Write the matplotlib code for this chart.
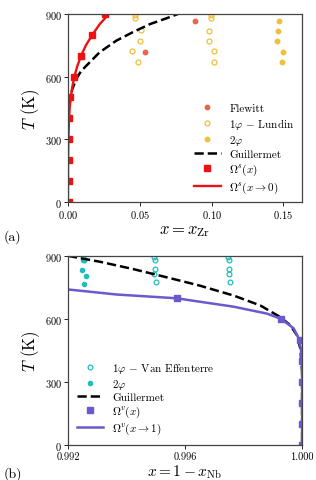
import matplotlib
matplotlib.use("Agg")
import matplotlib.pyplot as plt

plt.rcParams["font.family"] = "serif"
plt.rcParams["font.serif"] = ["cmr10", "DejaVu Serif"]
plt.rcParams["mathtext.fontset"] = "cm"
plt.rcParams["axes.formatter.use_mathtext"] = True
plt.rcParams["axes.unicode_minus"] = False

# -------------------------------------------------
# panel (a) data : Zr in Nb-Zr dilute side
# -------------------------------------------------
flewitt_x = [0.0535, 0.0884]
flewitt_T = [716, 866]

lundin1_x = [0.047, 0.047, 0.0512, 0.0500, 0.0449, 0.0488,
             0.0993, 0.0993, 0.0984, 0.0980, 0.1019, 0.1014]
lundin1_T = [896, 879, 824, 770, 721, 671,
             896, 879, 818, 770, 721, 671]

lundin2_x = [0.1472, 0.1465, 0.1458, 0.1498, 0.1490]
lundin2_T = [868, 818, 770, 716, 668]

guil_a_x = [0.0, 0.0005, 0.0012, 0.0030, 0.0058, 0.0090, 0.0128, 0.022,
            0.0337, 0.045, 0.057, 0.0686, 0.0767, 0.085]
guil_a_T = [400, 445, 480, 540, 588, 625, 652, 716,
            772, 812, 851, 879, 900, 915]

omega_s_x = [0.0004, 0.0004, 0.0004, 0.0004, 0.0007, 0.0016, 0.0040,
             0.0088, 0.0170, 0.0260]
omega_s_T = [0, 100, 200, 300, 400, 500, 600, 700, 800, 900]

dil_s_x = [0.0, 0.0001, 0.0003, 0.0008, 0.0012, 0.0020, 0.0030, 0.0045,
           0.0065, 0.0092, 0.0125, 0.0170, 0.0220, 0.0285, 0.0320]
dil_s_T = [0, 200, 300, 400, 450, 500, 550, 600,
           650, 700, 750, 800, 850, 900, 925]

# -------------------------------------------------
# panel (b) data : Nb-rich side
# -------------------------------------------------
vaneff1_x = [0.99252, 0.99254, 0.99495, 0.99499, 0.99497, 0.99495, 0.99500,
             0.99747, 0.99750, 0.99750, 0.99749, 0.99753]
vaneff1_T = [893, 880, 893, 878, 837, 812, 775,
             893, 878, 837, 812, 775]

vaneff2_x = [0.99250, 0.99248, 0.99261, 0.99256]
vaneff2_T = [880, 832, 805, 766]

guil_b_x = [0.9920, 0.99309, 0.99423, 0.99537, 0.99651, 0.99766, 0.99857,
            0.99926, 0.99960, 0.99983, 0.99994, 1.0, 1.0]
guil_b_T = [900, 872, 837, 798, 758, 711, 664,
            608, 569, 521, 458, 347, 0]

omega_v_x = [0.999995, 0.999995, 0.999995, 0.999995, 0.999995, 0.99994,
             0.99928, 0.99571]
omega_v_T = [0, 100, 200, 300, 400, 500, 600, 700]

dil_v_x = [0.9920, 0.99366, 0.99571, 0.99766, 0.99880, 0.99928, 0.99971,
           0.99989, 0.99996, 1.0, 1.0]
dil_v_T = [740, 716, 698, 658, 625, 600, 555, 505, 458, 360, 0]

# colours
RED = "#ee1111"
FLEWITT = "#e8664a"
GOLD = "#f0bf3c"
CYAN = "#1fbdbd"
PURPLE = "#6a5acd"

fig = plt.figure(figsize=(3.16, 4.81), dpi=100)
ax1 = fig.add_axes([0.215, 0.578, 0.741, 0.391])
ax2 = fig.add_axes([0.215, 0.073, 0.741, 0.393])

# -----------------------------
# (a)
# -----------------------------
ax1.plot(flewitt_x, flewitt_T, "o", color=FLEWITT, ms=3.2, label="Flewitt")
ax1.plot(lundin1_x, lundin1_T, "o", mfc="none", mec=GOLD, mew=0.9, ms=3.6,
         label=r"$1\varphi$ $-$ Lundin")
ax1.plot(lundin2_x, lundin2_T, "o", color=GOLD, ms=3.2, label=r"$2\varphi$")
ax1.plot(guil_a_x, guil_a_T, "--", color="black", lw=1.8, label="Guillermet")
ax1.plot(omega_s_x, omega_s_T, "s", color=RED, ms=5.0,
         label=r"$\Omega^s(x)$")
ax1.plot(dil_s_x, dil_s_T, "-", color=RED, lw=1.7,
         label=r"$\Omega^s(x\rightarrow 0)$")

ax1.set_xlim(0, 0.163)
ax1.set_ylim(0, 900)
ax1.set_xticks([0.0, 0.05, 0.10, 0.15])
ax1.set_yticks([0, 300, 600, 900])
ax1.set_ylabel(r"$T$ (K)", fontsize=12, labelpad=2)
ax1.set_xlabel(r"$x = x_{\mathrm{Zr}}$", fontsize=12, labelpad=2)
ax1.legend(loc="lower right", frameon=False, fontsize=8,
           handlelength=2.4, borderaxespad=0.25, labelspacing=0.22)

# -----------------------------
# (b)
# -----------------------------
ax2.plot(vaneff1_x, vaneff1_T, "o", mfc="none", mec=CYAN, mew=0.9, ms=3.4,
         label=r"$1\varphi$ $-$ Van Effenterre")
ax2.plot(vaneff2_x, vaneff2_T, "o", color=CYAN, ms=3.0, label=r"$2\varphi$")
ax2.plot(guil_b_x, guil_b_T, "--", color="black", lw=1.8, label="Guillermet")
ax2.plot(omega_v_x, omega_v_T, "s", color=PURPLE, ms=5.0,
         label=r"$\Omega^v(x)$")
ax2.plot(dil_v_x, dil_v_T, "-", color=PURPLE, lw=1.8,
         label=r"$\Omega^v(x\rightarrow 1)$")

ax2.set_xlim(0.992, 1.000)
ax2.set_ylim(0, 900)
ax2.set_xticks([0.992, 0.996, 1.000])
ax2.set_xticklabels(["0.992", "0.996", "1.000"])
ax2.set_yticks([0, 300, 600, 900])
ax2.set_ylabel(r"$T$ (K)", fontsize=12, labelpad=2)
ax2.set_xlabel(r"$x = 1 - x_{\mathrm{Nb}}$", fontsize=11, labelpad=1)
ax2.legend(loc="lower left", frameon=False, fontsize=8,
           handlelength=2.4, borderaxespad=0.4, labelspacing=0.15)

for ax in (ax1, ax2):
    ax.tick_params(labelsize=7.5, length=3, width=0.6, pad=1.5)
    for s in ax.spines.values():
        s.set_color("#444444")
        s.set_linewidth(0.9)

fig.text(0.012, 0.508, "(a)", fontsize=10, va="center")
fig.text(0.012, 0.0, "(b)", fontsize=10, va="bottom")

fig.savefig("out.png", dpi=100)
